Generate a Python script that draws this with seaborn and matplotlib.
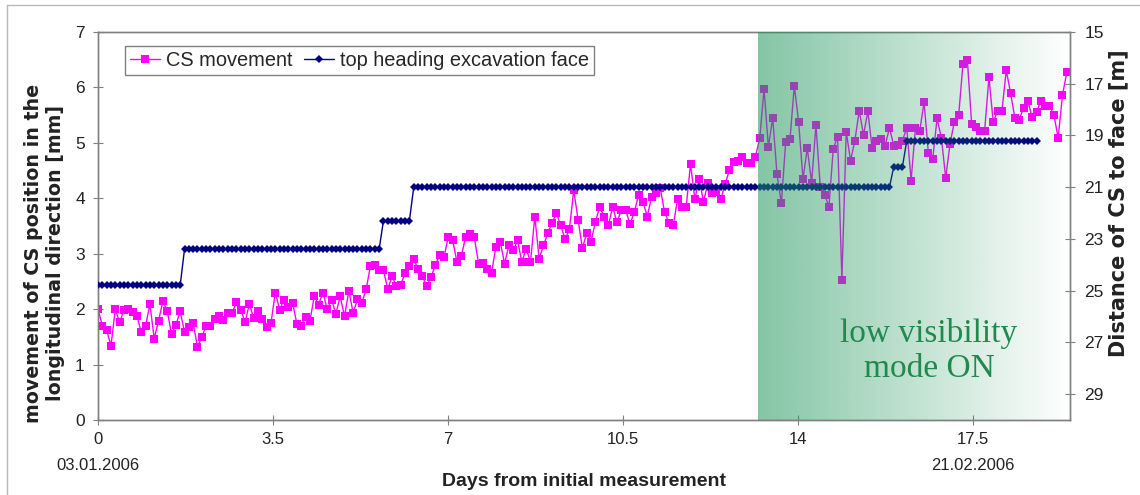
import numpy as np
import pandas as pd
import matplotlib
matplotlib.use("Agg")
import matplotlib.pyplot as plt
import seaborn as sns
from matplotlib import font_manager
from matplotlib.lines import Line2D

# ---------------- data ----------------
DAY_STEP = 0.0865          # spacing of the measurements [days]

cs_movement = [
    2.00, 1.70, 1.62, 1.34, 2.00, 1.76, 1.99, 2.00, 1.94, 1.88,
    1.58, 1.70, 2.09, 1.47, 1.79, 2.14, 1.97, 1.55, 1.71, 1.96,
    1.59, 1.68, 1.75, 1.32, 1.50, 1.70, 1.70, 1.82, 1.87, 1.81,
    1.93, 1.93, 2.12, 1.99, 1.77, 2.09, 1.84, 1.96, 1.83, 1.68,
    1.75, 2.30, 1.99, 2.17, 2.03, 2.11, 1.73, 1.70, 1.86, 1.79,
    2.23, 2.08, 2.30, 2.00, 2.17, 1.92, 2.23,
    1.87, 2.33, 1.93, 2.18, 2.11, 2.36, 2.78, 2.79, 2.70, 2.70,
    2.36, 2.59, 2.41, 2.43, 2.66, 2.78, 2.90, 2.72, 2.59, 2.42,
    2.58, 2.79, 2.98, 2.94, 3.31, 3.24, 2.85, 2.96, 3.30, 3.35,
    3.30, 2.82, 2.83, 2.72, 2.66, 3.12, 3.22, 2.82, 3.15, 3.06,
    3.24, 2.85, 3.09, 2.85, 3.67, 2.91, 3.15, 3.37, 3.56, 3.73,
    3.51, 3.26, 3.44, 4.15, 3.61, 3.10, 3.37,
    3.22, 3.57, 3.85, 3.67, 3.52, 3.84, 3.57, 3.79, 3.79, 3.53,
    3.75, 4.06, 3.94, 3.67, 4.03, 4.10, 4.18, 3.75, 3.56, 3.51,
    3.98, 3.84, 3.85, 4.62, 3.98, 4.35, 3.94, 4.27, 4.10, 4.12,
    3.98, 4.26, 4.51, 4.66, 4.68, 4.74, 4.64, 4.64, 4.75, 5.08,
    5.97, 4.93, 5.45, 4.43, 3.91, 5.02, 5.07, 6.03, 5.37, 4.35,
    4.90, 4.28, 5.32, 4.20, 4.06, 3.85,
    4.89, 5.11, 2.53, 5.20, 4.68, 5.04, 5.58, 5.14, 5.57, 4.90,
    5.04, 5.07, 4.95, 5.27, 4.95, 4.97, 5.04, 5.27, 4.32, 5.26,
    5.22, 5.73, 4.81, 4.71, 5.44, 5.09, 4.37, 4.98, 5.38, 5.50,
    6.43, 6.50, 5.34, 5.29, 5.22, 5.22, 6.18, 5.37, 5.58, 5.57,
    6.31, 5.90, 5.44, 5.42, 5.63, 5.75, 5.46, 5.55, 5.76, 5.67,
    5.67, 5.51, 5.09, 5.86, 6.27,
]

# top heading excavation face: distance levels [m] and number of readings per level
face_levels = [24.8, 23.4, 22.3, 21.0, 20.2, 19.2]
face_counts = [20, 46, 7, 111, 3, 31]

x_ticks = [0, 3.5, 7, 10.5, 14, 17.5]
x_tick_labels = ["0", "3.5", "7", "10.5", "14", "17.5"]
date_labels = {0: "03.01.2006", 17.5: "21.02.2006"}
left_ticks = [0, 1, 2, 3, 4, 5, 6, 7]
right_ticks = [15, 17, 19, 21, 23, 25, 27, 29]
low_vis_start = 13.2       # day when low visibility mode was switched on
X_MAX = 19.44

# ---------------- style ----------------
sns.set_theme(style="white")
plt.rcParams["font.family"] = ["Liberation Sans", "DejaVu Sans"]
names = {f.name for f in font_manager.fontManager.ttflist}
HAS_NARROW = "Liberation Sans Narrow" in names
NARROW = ["Liberation Sans Narrow", "Liberation Sans"] if HAS_NARROW else ["Liberation Sans"]
xtick_fs = 14 if HAS_NARROW else 12
GRAY = "#808080"

fig = plt.figure(figsize=(11.4, 4.95), dpi=100)
fig.patch.set_facecolor("white")
ax = fig.add_axes([98 / 1140, 75 / 495, 972 / 1140, 388 / 495])
ax2 = ax.twinx()

# light page frame (left and top edge)
fig.add_artist(Line2D([7 / 1140, 7 / 1140], [0, 1 - 5 / 495], color="#b8b8b8", lw=1.0))
fig.add_artist(Line2D([7 / 1140, 1], [1 - 5 / 495, 1 - 5 / 495], color="#b8b8b8", lw=1.0))

days = np.arange(len(cs_movement)) * DAY_STEP
df_cs = pd.DataFrame({"day": days, "mm": cs_movement})
face = np.repeat(face_levels, face_counts)
df_face = pd.DataFrame({"day": days[: len(face)], "m": face})

sns.lineplot(data=df_cs, x="day", y="mm", ax=ax, color="#FF00FF", marker="s",
             markersize=5.8, markeredgecolor="#FF00FF", markeredgewidth=0,
             linewidth=1.0, legend=False, zorder=3)
sns.lineplot(data=df_face, x="day", y="m", ax=ax2, color="#000080", marker="D",
             markersize=4, markeredgecolor="#000080", markeredgewidth=0,
             linewidth=1.0, legend=False, zorder=3)

# low visibility shading (gradient overlay)
grad = np.zeros((1, 300, 4))
grad[..., 0] = 30 / 255
grad[..., 1] = 150 / 255
grad[..., 2] = 90 / 255
grad[..., 3] = np.linspace(0.55, 0.0, 300)
ax2.imshow(grad, extent=[low_vis_start, X_MAX, 30, 15], aspect="auto",
           interpolation="bilinear", zorder=5)
ax2.text((929 - 98) / 972, (420 - 351) / 388, "low visibility\nmode ON",
         transform=ax2.transAxes, ha="center", va="center", fontsize=24,
         family=["Liberation Serif", "DejaVu Serif"], color="#1f8a4c",
         linespacing=1.15, zorder=6)

# axes limits / ticks
ax.set_xlim(0, X_MAX)
ax.set_ylim(0, 7)
ax2.set_ylim(30, 15)
ax.set_xticks(x_ticks)
ax.set_xticklabels(x_tick_labels)
ax.set_yticks(left_ticks)
ax2.set_yticks(right_ticks)

ax.tick_params(axis="x", bottom=True, direction="inout", length=7, width=0.8,
               color=GRAY, labelsize=xtick_fs, pad=5, labelcolor="#222222")
ax.tick_params(axis="y", left=True, direction="inout", length=7, width=0.8,
               color=GRAY, labelsize=12.5, pad=6, labelcolor="#222222")
ax2.tick_params(axis="y", right=True, direction="inout", length=7, width=0.8,
                color=GRAY, labelsize=12.5, pad=7, labelcolor="#222222")
for lab in ax.get_xticklabels():
    lab.set_family(NARROW)

for a in (ax, ax2):
    for s in a.spines.values():
        s.set_color(GRAY)
        s.set_linewidth(1.0)

for d, txt in date_labels.items():
    ax.text(d, (420 - 466) / 388, txt, transform=ax.get_xaxis_transform(),
            ha="center", va="center", fontsize=xtick_fs, family=NARROW,
            color="#222222")

ax.set_xlabel("Days from initial measurement", fontsize=14, fontweight="bold",
              color="#222222")
ax.xaxis.set_label_coords(0.5, (420 - 481) / 388)
ax.xaxis.label.set_va("center")

ax.set_ylabel("movement of CS position in the\nlongitudinal direction [mm]",
              fontsize=13.7, fontweight="bold", family="DejaVu Sans",
              color="#222222", linespacing=1.2)
ax.yaxis.set_label_coords((45 - 98) / 972, (420 - 253) / 388)
ax.yaxis.label.set_va("center")

ax2.set_ylabel("Distance of CS to face [m]", fontsize=15, fontweight="bold",
               family="DejaVu Sans", color="#222222")
ax2.yaxis.set_label_coords((1118 - 98) / 972, (420 - 203) / 388)
ax2.yaxis.label.set_va("center")

handles = [ax.lines[0], ax2.lines[0]]
labels = ["CS movement", "top heading excavation face"]
leg = ax2.legend(handles, labels, loc="upper left",
                 bbox_to_anchor=((125 - 98) / 972, (420 - 46) / 388),
                 ncol=2, frameon=True, fancybox=False, edgecolor=GRAY,
                 fontsize=14.4, borderaxespad=0, handlelength=1.5,
                 columnspacing=0.55, handletextpad=0.3, borderpad=0.25,
                 framealpha=1)
leg.get_frame().set_linewidth(1.0)
leg.set_zorder(10)

fig.savefig("out.png", dpi=100, facecolor="white")
